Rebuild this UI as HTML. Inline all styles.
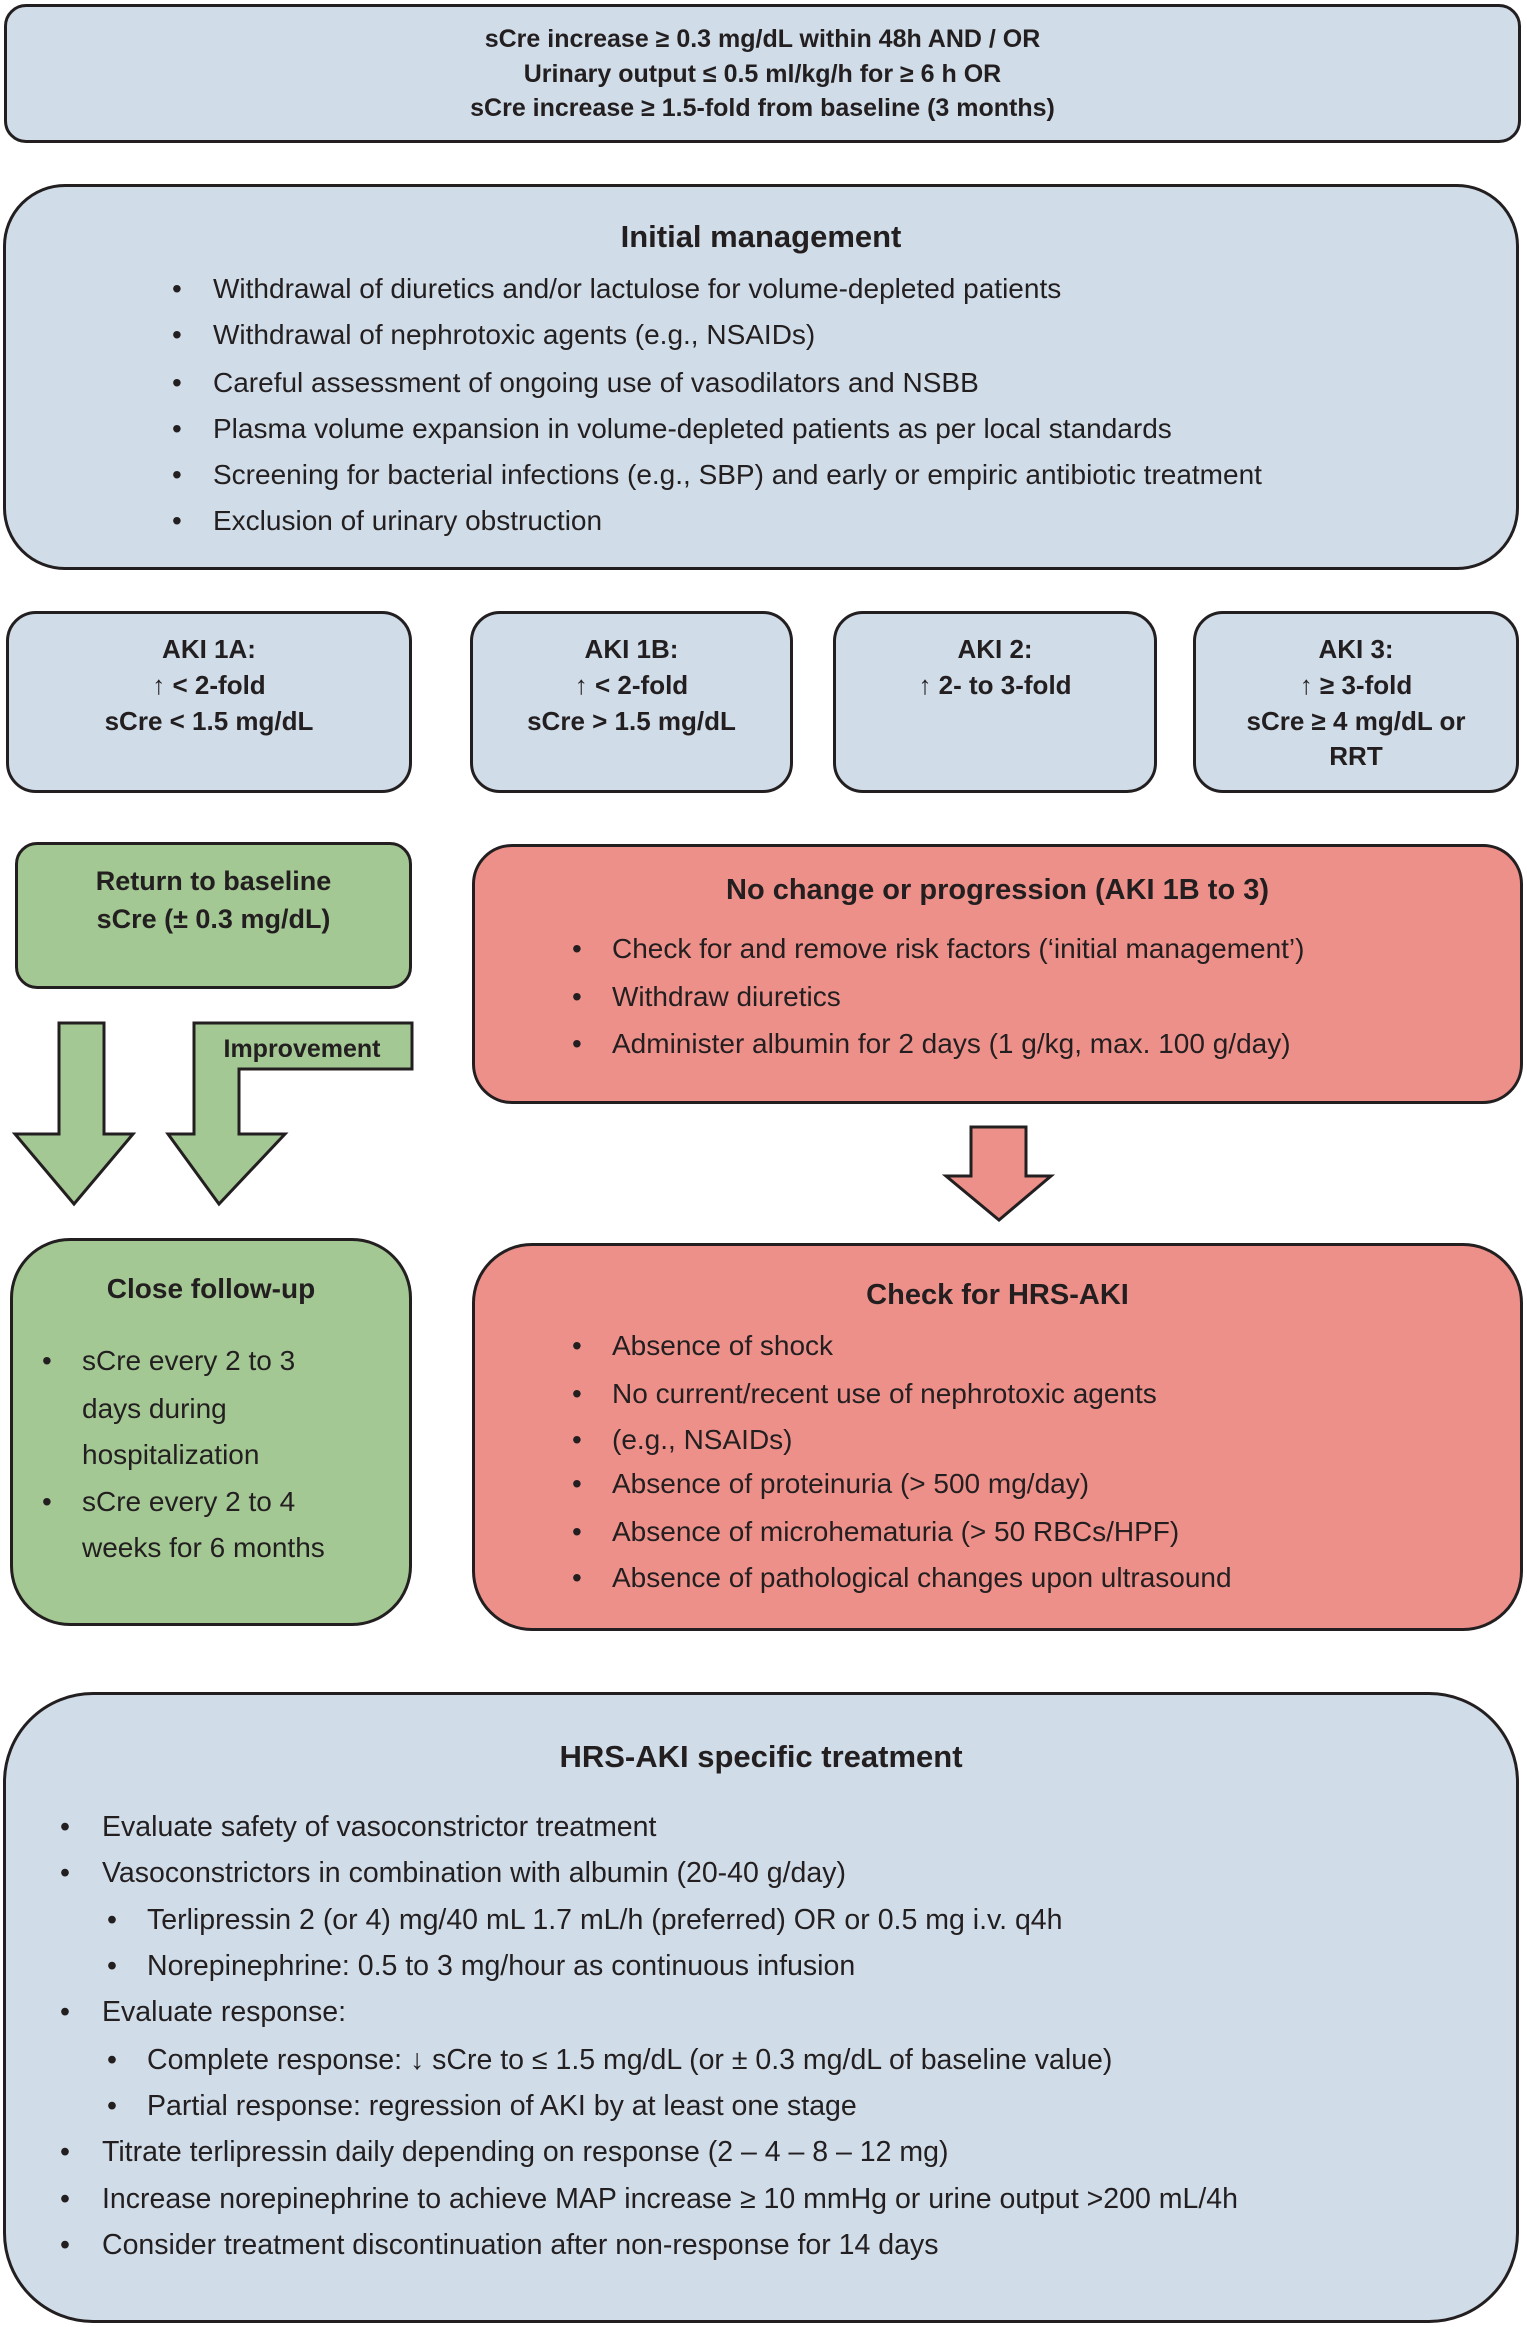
<!DOCTYPE html>
<html><head><meta charset="utf-8"><style>
html,body{margin:0;padding:0;background:#fff;}
body{width:1527px;height:2327px;position:relative;overflow:hidden;font-family:"Liberation Sans",Arial,sans-serif;color:#231f20;}
.box{position:absolute;box-sizing:border-box;border:3px solid #231f20;}
.blue{background:#d0dce7;}
.red{background:#ee908a;}
.green{background:#a3c893;}
.t{position:absolute;white-space:nowrap;line-height:40px;height:40px;}
.c{text-align:center;}
.b{font-weight:bold;}
</style></head><body>

<div class="box blue" style="left:4px;top:4px;width:1517px;height:139px;border-radius:22px;"></div>
<div class="t c b" style="left:4px;width:1517px;top:19px;font-size:25px;">sCre increase ≥ 0.3 mg/dL within 48h AND / OR</div>
<div class="t c b" style="left:4px;width:1517px;top:54px;font-size:25px;">Urinary output ≤ 0.5 ml/kg/h for ≥ 6 h OR</div>
<div class="t c b" style="left:4px;width:1517px;top:88px;font-size:25px;">sCre increase ≥ 1.5-fold from baseline (3 months)</div>

<div class="box blue" style="left:3px;top:184px;width:1516px;height:386px;border-radius:62px;"></div>
<div class="t c b" style="left:3px;width:1516px;top:217px;font-size:31px;">Initial management</div>
<div style="font-size:28px;">
<div class="t" style="left:172px;top:269px;">•</div><div class="t" style="left:213px;top:269px;">Withdrawal of diuretics and/or lactulose for volume-depleted patients</div>
<div class="t" style="left:172px;top:315px;">•</div><div class="t" style="left:213px;top:315px;">Withdrawal of nephrotoxic agents (e.g., NSAIDs)</div>
<div class="t" style="left:172px;top:363px;">•</div><div class="t" style="left:213px;top:363px;">Careful assessment of ongoing use of vasodilators and NSBB</div>
<div class="t" style="left:172px;top:409px;">•</div><div class="t" style="left:213px;top:409px;">Plasma volume expansion in volume-depleted patients as per local standards</div>
<div class="t" style="left:172px;top:455px;">•</div><div class="t" style="left:213px;top:455px;">Screening for bacterial infections (e.g., SBP) and early or empiric antibiotic treatment</div>
<div class="t" style="left:172px;top:501px;">•</div><div class="t" style="left:213px;top:501px;">Exclusion of urinary obstruction</div>
</div>

<div class="box blue" style="left:6px;top:611px;width:406px;height:182px;border-radius:30px;"></div>
<div class="box blue" style="left:470px;top:611px;width:323px;height:182px;border-radius:30px;"></div>
<div class="box blue" style="left:833px;top:611px;width:324px;height:182px;border-radius:30px;"></div>
<div class="box blue" style="left:1193px;top:611px;width:326px;height:182px;border-radius:30px;"></div>
<div class="b" style="font-size:26px;">
<div class="t c" style="left:6px;width:406px;top:629px;">AKI 1A:</div>
<div class="t c" style="left:6px;width:406px;top:665px;">↑ &lt; 2-fold</div>
<div class="t c" style="left:6px;width:406px;top:701px;">sCre &lt; 1.5 mg/dL</div>
<div class="t c" style="left:470px;width:323px;top:629px;">AKI 1B:</div>
<div class="t c" style="left:470px;width:323px;top:665px;">↑ &lt; 2-fold</div>
<div class="t c" style="left:470px;width:323px;top:701px;">sCre &gt; 1.5 mg/dL</div>
<div class="t c" style="left:833px;width:324px;top:629px;">AKI 2:</div>
<div class="t c" style="left:833px;width:324px;top:665px;">↑ 2- to 3-fold</div>
<div class="t c" style="left:1193px;width:326px;top:629px;">AKI 3:</div>
<div class="t c" style="left:1193px;width:326px;top:665px;">↑ ≥ 3-fold</div>
<div class="t c" style="left:1193px;width:326px;top:701px;">sCre ≥ 4 mg/dL or</div>
<div class="t c" style="left:1193px;width:326px;top:736px;">RRT</div>
</div>

<div class="box green" style="left:15px;top:842px;width:397px;height:147px;border-radius:22px;"></div>
<div class="t c b" style="left:15px;width:397px;top:861px;font-size:27px;">Return to baseline</div>
<div class="t c b" style="left:15px;width:397px;top:899px;font-size:27px;">sCre (± 0.3 mg/dL)</div>

<div class="box red" style="left:472px;top:844px;width:1051px;height:260px;border-radius:40px;"></div>
<div class="t c b" style="left:472px;width:1051px;top:870px;font-size:29px;">No change or progression (AKI 1B to 3)</div>
<div style="font-size:28px;">
<div class="t" style="left:572px;top:929px;">•</div><div class="t" style="left:612px;top:929px;">Check for and remove risk factors (‘initial management’)</div>
<div class="t" style="left:572px;top:977px;">•</div><div class="t" style="left:612px;top:977px;">Withdraw diuretics</div>
<div class="t" style="left:572px;top:1024px;">•</div><div class="t" style="left:612px;top:1024px;">Administer albumin for 2 days (1 g/kg, max. 100 g/day)</div>
</div>

<svg style="position:absolute;left:0;top:0;" width="1527" height="2327">
<g fill="#a3c893" stroke="#231f20" stroke-width="3" stroke-linejoin="miter">
<polygon points="59,1023 104,1023 104,1134 133,1134 74,1204 15,1134 59,1134"/>
<polygon points="194,1023 412,1023 412,1069 239,1069 239,1134 285,1134 219,1204 168,1134 194,1134"/>
</g>
<polygon fill="#ee908a" stroke="#231f20" stroke-width="3" points="971,1127 1026,1127 1026,1176 1051,1176 999,1220 946,1176 971,1176"/>
<text x="302" y="1057" text-anchor="middle" font-family="Liberation Sans, Arial, sans-serif" font-weight="bold" font-size="25" fill="#231f20">Improvement</text>
</svg>

<div class="box green" style="left:10px;top:1238px;width:402px;height:388px;border-radius:60px;"></div>
<div class="t c b" style="left:10px;width:402px;top:1269px;font-size:28px;">Close follow-up</div>
<div style="font-size:28px;">
<div class="t" style="left:42px;top:1341px;">•</div><div class="t" style="left:82px;top:1341px;">sCre every 2 to 3</div>
<div class="t" style="left:82px;top:1389px;">days during</div>
<div class="t" style="left:82px;top:1435px;">hospitalization</div>
<div class="t" style="left:42px;top:1482px;">•</div><div class="t" style="left:82px;top:1482px;">sCre every 2 to 4</div>
<div class="t" style="left:82px;top:1528px;">weeks for 6 months</div>
</div>

<div class="box red" style="left:472px;top:1243px;width:1051px;height:388px;border-radius:60px;"></div>
<div class="t c b" style="left:472px;width:1051px;top:1275px;font-size:29px;">Check for HRS-AKI</div>
<div style="font-size:28px;">
<div class="t" style="left:572px;top:1326px;">•</div><div class="t" style="left:612px;top:1326px;">Absence of shock</div>
<div class="t" style="left:572px;top:1374px;">•</div><div class="t" style="left:612px;top:1374px;">No current/recent use of nephrotoxic agents</div>
<div class="t" style="left:572px;top:1420px;">•</div><div class="t" style="left:612px;top:1420px;">(e.g., NSAIDs)</div>
<div class="t" style="left:572px;top:1464px;">•</div><div class="t" style="left:612px;top:1464px;">Absence of proteinuria (&gt; 500 mg/day)</div>
<div class="t" style="left:572px;top:1512px;">•</div><div class="t" style="left:612px;top:1512px;">Absence of microhematuria (&gt; 50 RBCs/HPF)</div>
<div class="t" style="left:572px;top:1558px;">•</div><div class="t" style="left:612px;top:1558px;">Absence of pathological changes upon ultrasound</div>
</div>

<div class="box blue" style="left:3px;top:1692px;width:1516px;height:631px;border-radius:90px;"></div>
<div class="t c b" style="left:3px;width:1516px;top:1737px;font-size:31px;">HRS-AKI specific treatment</div>
<div style="font-size:28.5px;">
<div class="t" style="left:60px;top:1807px;">•</div><div class="t" style="left:102px;top:1807px;">Evaluate safety of vasoconstrictor treatment</div>
<div class="t" style="left:60px;top:1853px;">•</div><div class="t" style="left:102px;top:1853px;">Vasoconstrictors in combination with albumin (20-40 g/day)</div>
<div class="t" style="left:107px;top:1900px;">•</div><div class="t" style="left:147px;top:1900px;">Terlipressin 2 (or 4) mg/40 mL 1.7 mL/h (preferred) OR or 0.5 mg i.v. q4h</div>
<div class="t" style="left:107px;top:1946px;">•</div><div class="t" style="left:147px;top:1946px;">Norepinephrine: 0.5 to 3 mg/hour as continuous infusion</div>
<div class="t" style="left:60px;top:1992px;">•</div><div class="t" style="left:102px;top:1992px;">Evaluate response:</div>
<div class="t" style="left:107px;top:2040px;">•</div><div class="t" style="left:147px;top:2040px;">Complete response: ↓ sCre to ≤ 1.5 mg/dL (or ± 0.3 mg/dL of baseline value)</div>
<div class="t" style="left:107px;top:2086px;">•</div><div class="t" style="left:147px;top:2086px;">Partial response: regression of AKI by at least one stage</div>
<div class="t" style="left:60px;top:2132px;">•</div><div class="t" style="left:102px;top:2132px;">Titrate terlipressin daily depending on response (2 – 4 – 8 – 12 mg)</div>
<div class="t" style="left:60px;top:2179px;">•</div><div class="t" style="left:102px;top:2179px;">Increase norepinephrine to achieve MAP increase ≥ 10 mmHg or urine output &gt;200 mL/4h</div>
<div class="t" style="left:60px;top:2225px;">•</div><div class="t" style="left:102px;top:2225px;">Consider treatment discontinuation after non-response for 14 days</div>
</div>

</body></html>
